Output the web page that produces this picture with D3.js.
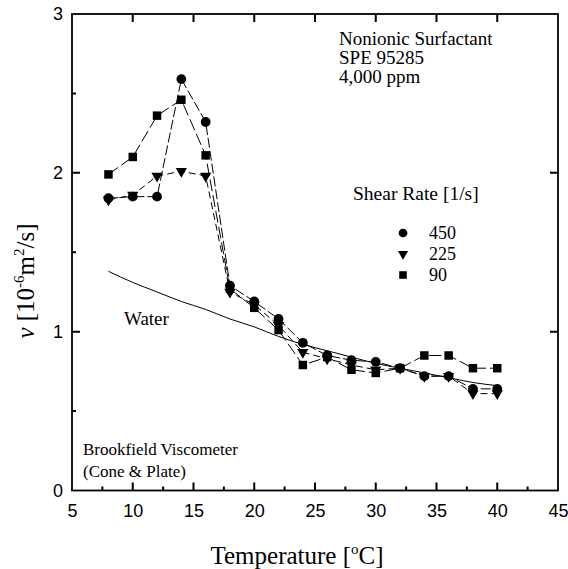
<html>
<script src="https://d3js.org/d3.v7.min.js"></script>
<style>
body { margin: 0; background: #fff; }
text { fill: #000; }
</style>
<body>
<svg id="chart" width="568" height="569"></svg>
<script>
// temperatures [C]
const temps = [8, 10, 12, 14, 16, 18, 20, 22, 24, 26, 28, 30, 32, 34, 36, 38, 40];
// kinematic viscosity [1e-6 m2/s] per shear rate
const rate450 = [1.84, 1.85, 1.85, 2.59, 2.32, 1.29, 1.19, 1.08, 0.93, 0.85, 0.82, 0.81, 0.77, 0.72, 0.72, 0.64, 0.64];
const rate225 = [1.83, 1.86, 1.98, 2.01, 1.98, 1.25, 1.17, 1.04, 0.87, 0.83, 0.79, 0.76, 0.77, 0.72, 0.72, 0.61, 0.61];
const rate90  = [1.99, 2.10, 2.36, 2.46, 2.11, 1.27, 1.15, 1.01, 0.79, 0.84, 0.76, 0.74, 0.77, 0.85, 0.85, 0.77, 0.77];
const water   = [1.38, 1.31, 1.25, 1.19, 1.14, 1.08, 1.03, 0.97, 0.92, 0.88, 0.84, 0.80, 0.77, 0.74, 0.71, 0.68, 0.66];
const xTicks = [5, 10, 15, 20, 25, 30, 35, 40, 45];
const yTicks = [0, 1, 2, 3];
const legendLabels = ['450', '225', '90'];

const pL = 72, pR = 558, pT = 14, pB = 490.5;
const svg = d3.select('#chart');

const x = d3.scaleLinear().domain([5, 45]).range([pL, pR]);
const y = d3.scaleLinear().domain([0, 3]).range([pB, pT]);

// frame
svg.append('rect')
  .attr('x', pL).attr('y', pT)
  .attr('width', pR - pL).attr('height', pB - pT)
  .attr('fill', 'none').attr('stroke', '#000').attr('stroke-width', 1.8);

const minorX = d3.range(7.5, 45, 5);
const minorY = d3.range(0.5, 3, 1);
const sans = 'Liberation Sans, Arial, sans-serif';

// tick labels
svg.append('g').attr('transform', 'translate(0,' + pB + ')')
  .call(d3.axisBottom(x).tickValues(xTicks).tickSize(0).tickPadding(14))
  .call(g => g.select('.domain').remove())
  .attr('font-family', sans).attr('font-size', 18);
svg.append('g').attr('transform', 'translate(' + pL + ',0)')
  .call(d3.axisLeft(y).tickValues(yTicks).tickSize(0).tickPadding(9).tickFormat(d3.format('d')))
  .call(g => g.select('.domain').remove())
  .attr('font-family', sans).attr('font-size', 18);

// inward ticks, drawn as one path
const inner = xTicks.slice(1, -1), innerY = yTicks.slice(1, -1);
let td = '';
inner.forEach(v => { td += 'M' + x(v) + ',' + pB + 'V' + (pB - 8) + 'M' + x(v) + ',' + pT + 'V' + (pT + 8); });
minorX.forEach(v => { td += 'M' + x(v) + ',' + pB + 'V' + (pB - 4); });
innerY.forEach(v => { td += 'M' + pL + ',' + y(v) + 'H' + (pL + 8) + 'M' + pR + ',' + y(v) + 'H' + (pR - 8); });
minorY.forEach(v => { td += 'M' + pL + ',' + y(v) + 'H' + (pL + 4); });
svg.append('path').attr('d', td).attr('fill', 'none').attr('stroke', '#000').attr('stroke-width', 2);

// water curve
const line = d3.line().x(d => x(d[0])).y(d => y(d[1])).curve(d3.curveMonotoneX);
svg.append('path')
  .datum(temps.map((t, i) => [t, water[i]]))
  .attr('d', line).attr('fill', 'none').attr('stroke', '#000').attr('stroke-width', 1);

// series
const series = [
  {vals: rate450, sym: d3.symbolCircle, size: 75, dash: '10,3'},
  {vals: rate225, sym: d3.symbolTriangle, size: 55, dash: '7,4', flip: true},
  {vals: rate90, sym: d3.symbolSquare, size: 72, dash: '12,4'}
];
const straight = d3.line().x(d => x(d[0])).y(d => y(d[1]));

series.forEach(s => {
  const pts = temps.map((t, i) => [t, s.vals[i]]);
  svg.append('path').datum(pts)
    .attr('d', straight).attr('fill', 'none')
    .attr('stroke', '#000').attr('stroke-width', 1).attr('stroke-dasharray', s.dash);
  svg.append('g').selectAll('path').data(pts).enter().append('path')
    .attr('d', d3.symbol().type(s.sym).size(s.size))
    .attr('transform', d => 'translate(' + x(d[0]) + ',' + y(d[1]) + ')' + (s.flip ? ' rotate(180)' : ''))
    .attr('fill', '#000');
});

// annotations
const serif = 'Liberation Serif, Times New Roman, serif';
const note = svg.append('g').attr('font-family', serif).attr('font-size', 19);
note.append('text').attr('x', 339).attr('y', 45).text('Nonionic Surfactant');
note.append('text').attr('x', 339).attr('y', 64).text('SPE 95285');
note.append('text').attr('x', 339).attr('y', 83).text('4,000 ppm');
note.append('text').attr('x', 353).attr('y', 200).attr('font-size', 19.5).text('Shear Rate [1/s]');
note.append('text').attr('x', 124).attr('y', 325).text('Water');
note.append('text').attr('x', 83).attr('y', 455).attr('font-size', 17).text('Brookfield Viscometer');
note.append('text').attr('x', 83).attr('y', 477).attr('font-size', 17).text('(Cone & Plate)');

// legend
legendLabels.forEach((lab, i) => {
  const s = series[i];
  const ly = 233 + i * 21;
  svg.append('path')
    .attr('d', d3.symbol().type(s.sym).size(s.size * 0.8))
    .attr('transform', 'translate(403,' + ly + ')' + (s.flip ? ' rotate(180)' : ''))
    .attr('fill', '#000');
  note.append('text').attr('x', 429).attr('y', ly + 6).attr('font-size', 18).text(lab);
});

// axis titles
const xt = svg.append('text').attr('x', 297).attr('y', 564)
  .attr('text-anchor', 'middle').attr('font-family', serif).attr('font-size', 25);
xt.append('tspan').text('Temperature [');
xt.append('tspan').attr('dy', -10).attr('font-size', 15).text('o');
xt.append('tspan').attr('dy', 10).text('C]');

const yt = svg.append('text').attr('transform', 'translate(34,281) rotate(-90)')
  .attr('text-anchor', 'middle').attr('font-family', serif).attr('font-size', 25);
yt.append('tspan').attr('font-style', 'italic').text('ν');
yt.append('tspan').text(' [10');
yt.append('tspan').attr('dy', -10).attr('font-size', 15).text('-6');
yt.append('tspan').attr('dy', 10).text('m');
yt.append('tspan').attr('dy', -10).attr('font-size', 15).text('2');
yt.append('tspan').attr('dy', 10).text('/s]');
</script>
</body>
</html>
